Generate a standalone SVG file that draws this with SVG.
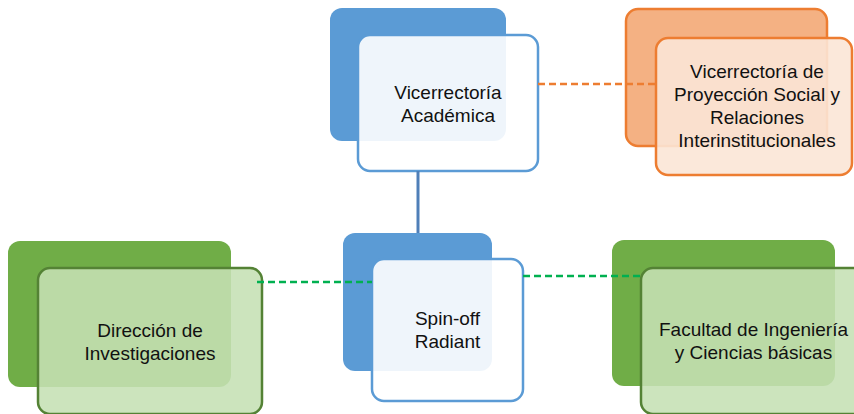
<svg xmlns="http://www.w3.org/2000/svg" width="854" height="414" viewBox="0 0 854 414">
<style>
text{font-family:"Liberation Sans",Arial,sans-serif;font-size:19px;fill:#111;text-anchor:middle}
.bb{fill:#5B9BD5}
.bf{fill:#FFFFFF;fill-opacity:0.9;stroke:#5B9BD5;stroke-width:2.5}
.ob{fill:#F4B183;stroke:#ED7D31;stroke-width:2.5}
.of{fill:#FBE5D6;fill-opacity:0.9;stroke:#ED7D31;stroke-width:2.5}
.gb{fill:#70AD47}
.gf{fill:#C5E0B4;fill-opacity:0.88;stroke:#548235;stroke-width:2.5}
.dash-o{stroke:#ED7D31;stroke-width:2.5;stroke-dasharray:7 4;fill:none}
.dash-g{stroke:#00B050;stroke-width:2.5;stroke-dasharray:7 4;fill:none}
.solid{stroke:#4F7FB8;stroke-width:3;fill:none}
</style>
<rect width="854" height="414" fill="#FFFFFF"/>
<g id="node-vicerrectoria-academica">
<rect class="bb" x="330" y="8" width="176" height="133" rx="12"/>
<rect class="bf" x="358" y="35" width="180" height="136" rx="12"/>
<text x="448" y="99">Vicerrectoría</text>
<text x="448" y="122">Académica</text>
</g>
<g id="node-vicerrectoria-proyeccion">
<rect class="ob" x="626" y="9" width="201" height="137" rx="12"/>
<rect class="of" x="656" y="38" width="196" height="137" rx="12"/>
<text x="757" y="78">Vicerrectoría de</text>
<text x="757" y="101">Proyección Social y</text>
<text x="757" y="124">Relaciones</text>
<text x="757" y="147">Interinstitucionales</text>
</g>
<g id="node-direccion-investigaciones">
<rect class="gb" x="8" y="241" width="223" height="146" rx="12"/>
<rect class="gf" x="38" y="268" width="224" height="146" rx="12"/>
<text x="150" y="337">Dirección de</text>
<text x="150" y="360">Investigaciones</text>
</g>
<g id="node-spin-off">
<rect class="bb" x="343" y="233" width="149" height="138" rx="12"/>
<rect class="bf" x="372" y="259" width="151" height="142" rx="12"/>
<text x="447.5" y="325">Spin-off</text>
<text x="447.5" y="348">Radiant</text>
</g>
<g id="node-facultad">
<rect class="gb" x="612" y="240" width="223" height="146" rx="12"/>
<rect class="gf" x="641" y="268" width="225" height="146" rx="12"/>
<text x="753.5" y="336">Facultad de Ingeniería</text>
<text x="753.5" y="359">y Ciencias básicas</text>
</g>
<g id="connectors">
<line class="solid" x1="418" y1="171" x2="418" y2="233"/>
<line class="dash-o" x1="538" y1="84" x2="656" y2="84"/>
<line class="dash-g" x1="257" y1="282" x2="372" y2="282"/>
<line class="dash-g" x1="523" y1="276" x2="641" y2="276"/>
</g>
</svg>
